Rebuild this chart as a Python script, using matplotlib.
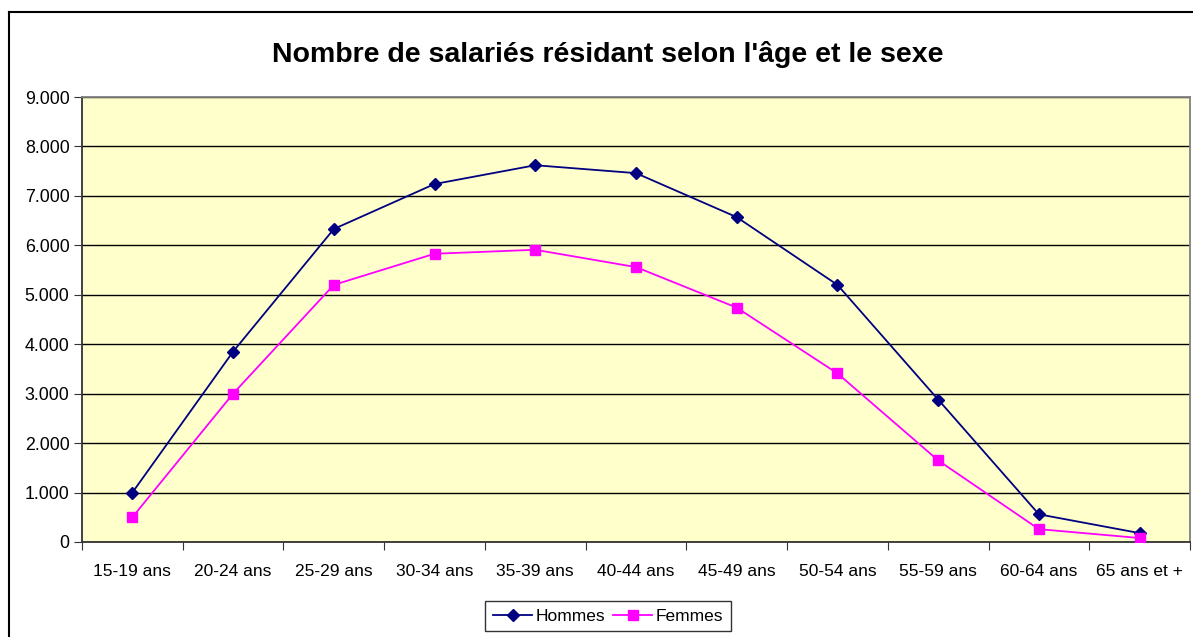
import matplotlib

matplotlib.use("Agg")
import matplotlib.pyplot as plt
from matplotlib.lines import Line2D
from matplotlib.ticker import FuncFormatter

plt.rcParams["font.family"] = ["Liberation Sans", "DejaVu Sans"]

categories = ["15-19 ans", "20-24 ans", "25-29 ans", "30-34 ans", "35-39 ans", "40-44 ans",
              "45-49 ans", "50-54 ans", "55-59 ans", "60-64 ans", "65 ans et +"]
hommes = [1000, 3850, 6330, 7240, 7620, 7460, 6570, 5200, 2880, 560, 180]
femmes = [500, 3000, 5200, 5830, 5910, 5560, 4740, 3410, 1650, 260, 80]
y_ticks = [0, 1000, 2000, 3000, 4000, 5000, 6000, 7000, 8000, 9000]
title = "Nombre de salariés résidant selon l'âge et le sexe"

W, H = 1193, 637
fig = plt.figure(figsize=(W / 100, H / 100), dpi=100)

# outer chart frame (left and top edges visible, rest cut off)
fig.add_artist(Line2D([9 / W, 9 / W], [0, 1 - 12 / H], transform=fig.transFigure, color="black", lw=1.5))
fig.add_artist(Line2D([9 / W, 1], [1 - 12 / H, 1 - 12 / H], transform=fig.transFigure, color="black", lw=1.5))

ax = fig.add_axes([82 / W, 1 - 542 / H, (1190 - 82) / W, (542 - 97) / H])
ax.set_facecolor("#FFFFCC")

x = list(range(len(categories)))
ax.plot(x, hommes, color="#000080", marker="D", markersize=6.5, lw=1.3, label="Hommes", zorder=3)
ax.plot(x, femmes, color="#FF00FF", marker="s", markersize=7, lw=1.3, label="Femmes", zorder=3)

ax.set_xlim(-0.5, len(categories) - 0.5)
ax.set_ylim(0, 9000)
ax.set_yticks(y_ticks)
ax.yaxis.set_major_formatter(FuncFormatter(lambda v, _: f"{int(v):,}".replace(",", ".")))
ax.grid(axis="y", color="black", lw=1)
ax.set_axisbelow(True)

ax.set_xticks([i - 0.5 for i in range(len(categories) + 1)])
ax.set_xticklabels([])
ax.set_xticks(x, minor=True)
ax.set_xticklabels(categories, minor=True)
ax.tick_params(axis="x", which="major", direction="out", length=6, color="#333333")
ax.tick_params(axis="x", which="minor", length=0, pad=16, labelsize=12.5)
ax.tick_params(axis="y", direction="out", length=6, color="#333333", labelsize=12.8, pad=3)

for side in ["left", "bottom"]:
    ax.spines[side].set_color("#333333")
    ax.spines[side].set_linewidth(1.3)
for side in ["top", "right"]:
    ax.spines[side].set_color("#808080")
    ax.spines[side].set_linewidth(1.3)

fig.text(608 / W, 1 - 55 / H, title, ha="center", va="center", fontsize=20.5, fontweight="bold")

leg = fig.legend(loc="center", bbox_to_anchor=(608 / W, 1 - 616 / H), ncol=2, frameon=True,
                 fancybox=False, edgecolor="black", fontsize=12.5, handlelength=2.3,
                 columnspacing=0.4, handletextpad=0.2, borderpad=0.45, borderaxespad=0)
leg.get_frame().set_linewidth(1)

fig.savefig("out.png", dpi=100)
